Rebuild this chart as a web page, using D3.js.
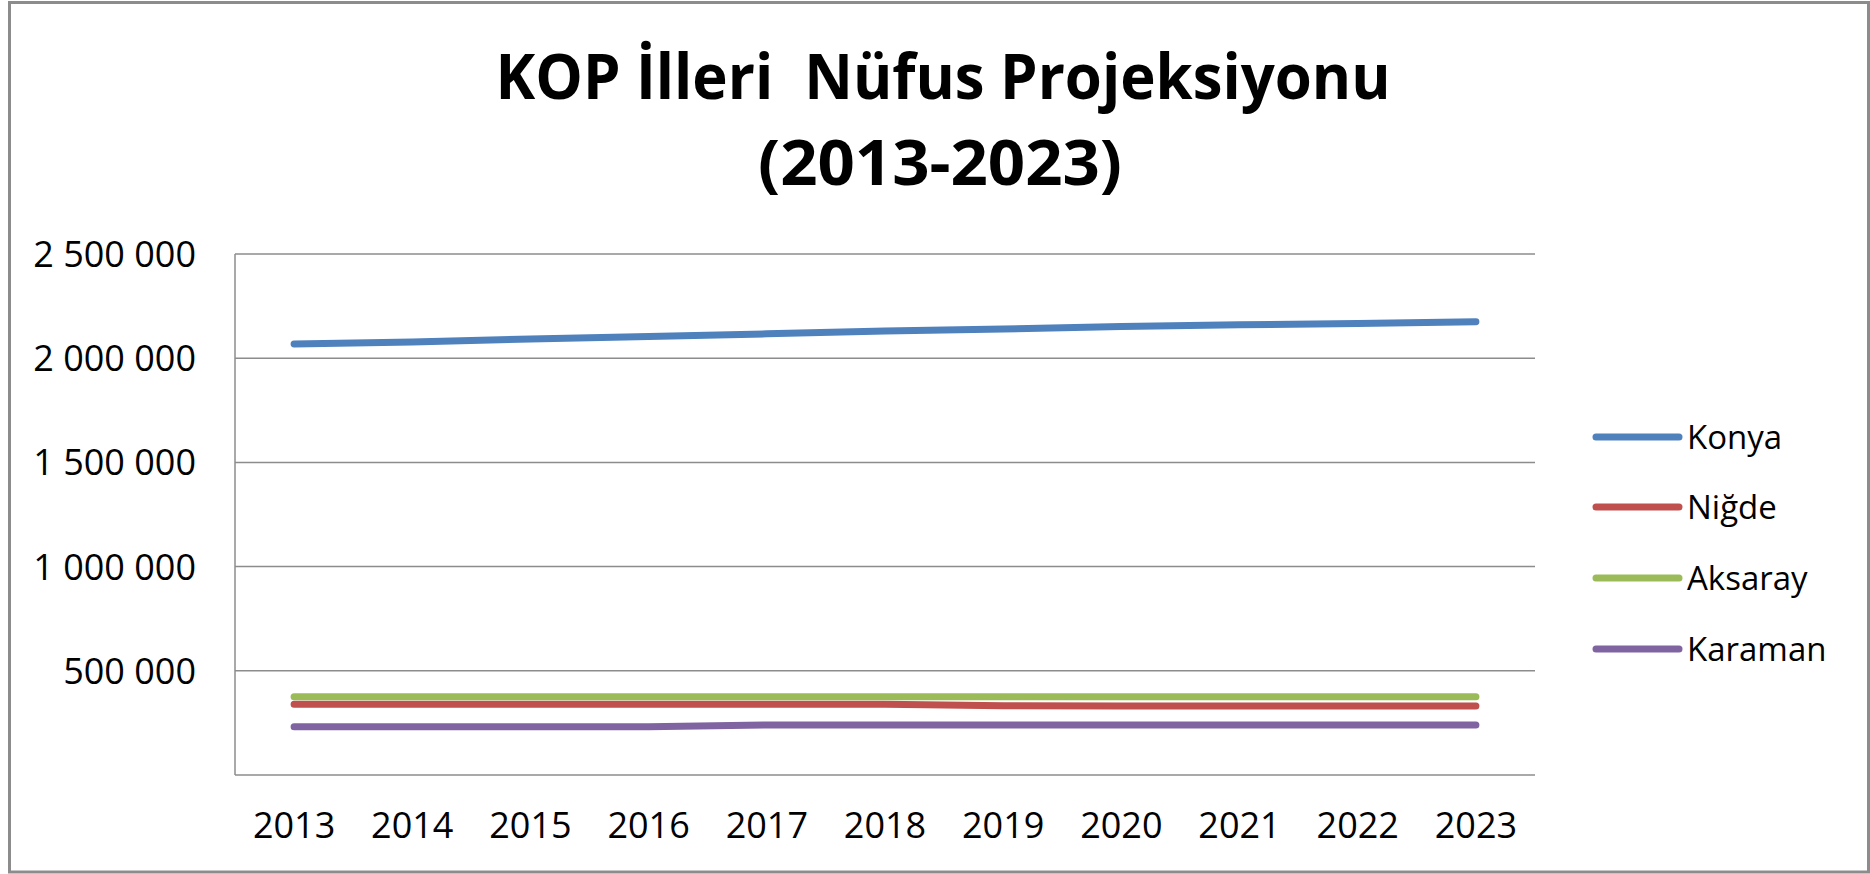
<!DOCTYPE html>
<html>
<head>
<meta charset="utf-8">
<script src="https://cdn.jsdelivr.net/npm/d3@7"></script>
<style>
  html, body { margin: 0; padding: 0; background: #fff; }
  svg { display: block; }
  text { font-family: "Open Sans", "Liberation Sans", sans-serif; fill: #000; }
</style>
</head>
<body>
<div id="chart"></div>
<script>
// Veriler
const years = ["2013", "2014", "2015", "2016", "2017", "2018", "2019", "2020", "2021", "2022", "2023"];
const seriesNames = ["Konya", "Niğde", "Aksaray", "Karaman"];
const konya = [2068000, 2078000, 2092000, 2104000, 2117000, 2130000, 2140000, 2152000, 2160000, 2167000, 2175000];
const nigde = [340000, 340000, 339000, 339000, 339000, 339000, 332000, 331000, 331000, 331000, 331000];
const aksaray = [376000, 376000, 376000, 376000, 376000, 376000, 376000, 376000, 376000, 376000, 376000];
const karaman = [232000, 232000, 232000, 232000, 240000, 240000, 240000, 240000, 240000, 240000, 240000];
const yTicks = [500000, 1000000, 1500000, 2000000, 2500000];
const titleLines = ["KOP İlleri  Nüfus Projeksiyonu", "(2013-2023)"];

const colors = ["#4F81BD", "#C0504D", "#9BBB59", "#8064A2"];
const seriesValues = [konya, nigde, aksaray, karaman];

const width = 1870, height = 874;
const plot = { left: 235, right: 1535, top: 254, bottom: 775 };

const svg = d3.select("#chart").append("svg")
    .attr("width", width)
    .attr("height", height);

// Dış çerçeve
svg.append("rect")
    .attr("x", 9.5).attr("y", 2.5)
    .attr("width", width - 11).attr("height", height - 4.5)
    .attr("fill", "#fff")
    .attr("stroke", "#8c8c8c")
    .attr("stroke-width", 3);

// Başlık (çift boşluk korunuyor)
svg.append("text")
    .attr("x", 943).attr("y", 99)
    .attr("text-anchor", "middle")
    .attr("font-weight", "bold")
    .attr("font-size", 62)
    .attr("textLength", 895)
    .attr("lengthAdjust", "spacingAndGlyphs")
    .style("white-space", "pre")
    .text(titleLines[0]);

svg.append("text")
    .attr("x", 940).attr("y", 185)
    .attr("text-anchor", "middle")
    .attr("font-weight", "bold")
    .attr("font-size", 62)
    .attr("textLength", 364)
    .attr("lengthAdjust", "spacingAndGlyphs")
    .text(titleLines[1]);

// Ölçekler
const x = d3.scaleBand().domain(years).range([plot.left, plot.right]).padding(0);
const y = d3.scaleLinear().domain([0, 2500000]).range([plot.bottom, plot.top]);
const xc = d => x(d) + x.bandwidth() / 2;

const fmt = d3.formatLocale({ decimal: ",", thousands: " ", grouping: [3], currency: ["", ""] }).format(",d");

// Izgara çizgileri
svg.append("g")
    .selectAll("line")
    .data(yTicks)
    .join("line")
    .attr("x1", plot.left).attr("x2", plot.right)
    .attr("y1", d => y(d)).attr("y2", d => y(d))
    .attr("stroke", "#8c8c8c")
    .attr("stroke-width", 1.5);

// Eksen çizgileri
svg.append("line")
    .attr("x1", plot.left).attr("x2", plot.left)
    .attr("y1", plot.top).attr("y2", plot.bottom)
    .attr("stroke", "#8c8c8c").attr("stroke-width", 1.5);
svg.append("line")
    .attr("x1", plot.left).attr("x2", plot.right)
    .attr("y1", plot.bottom).attr("y2", plot.bottom)
    .attr("stroke", "#8c8c8c").attr("stroke-width", 1.5);

// Y etiketleri
svg.append("g")
    .selectAll("text")
    .data(yTicks)
    .join("text")
    .attr("x", 196)
    .attr("y", d => y(d))
    .attr("dy", "0.36em")
    .attr("text-anchor", "end")
    .attr("font-size", 36)
    .text(d => fmt(d));

// X etiketleri
svg.append("g")
    .selectAll("text")
    .data(years)
    .join("text")
    .attr("x", d => xc(d))
    .attr("y", 838)
    .attr("text-anchor", "middle")
    .attr("font-size", 36)
    .text(d => d);

// Seriler
const line = d3.line()
    .x((d, i) => xc(years[i]))
    .y(d => y(d));

svg.append("g")
    .selectAll("path")
    .data(seriesValues)
    .join("path")
    .attr("d", d => line(d))
    .attr("fill", "none")
    .attr("stroke", (d, i) => colors[i])
    .attr("stroke-width", 7)
    .attr("stroke-linecap", "round")
    .attr("stroke-linejoin", "round");

// Lejant
const legendY = [437, 507, 578, 649];
const legend = svg.append("g")
    .selectAll("g")
    .data(seriesNames)
    .join("g")
    .attr("transform", (d, i) => `translate(0,${legendY[i]})`);

legend.append("line")
    .attr("x1", 1596).attr("x2", 1679)
    .attr("y1", 0).attr("y2", 0)
    .attr("stroke", (d, i) => colors[i])
    .attr("stroke-width", 7)
    .attr("stroke-linecap", "round");

legend.append("text")
    .attr("x", 1687)
    .attr("dy", "0.36em")
    .attr("font-size", 33)
    .text(d => d);
</script>
</body>
</html>
